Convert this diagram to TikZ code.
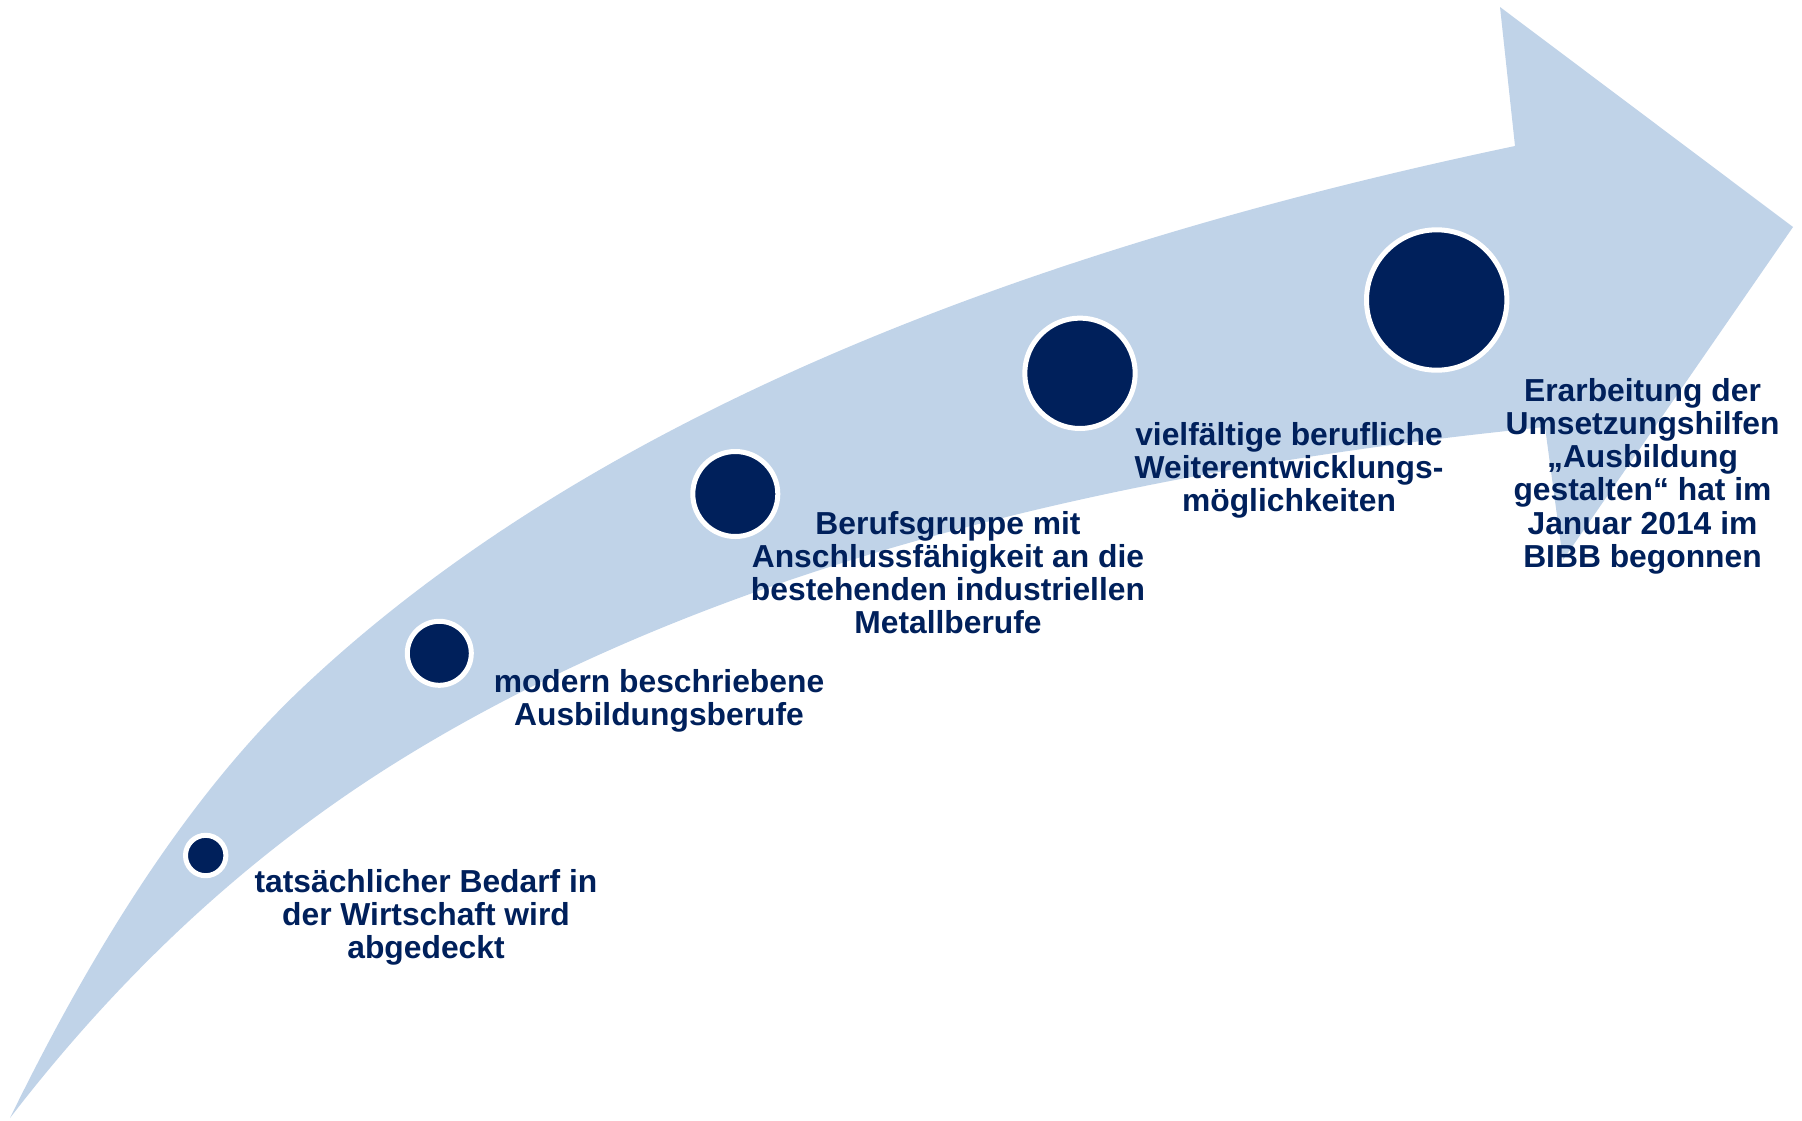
\documentclass[tikz,border=0pt]{standalone}
\usepackage{fontspec}
\setmainfont{Liberation Sans}
\definecolor{navy}{RGB}{0,32,91}
\definecolor{lightblue}{RGB}{192,211,232}
\tikzset{
  dot/.style={circle, fill=navy, draw=white, line width=5pt, inner sep=0pt},
  label/.style={anchor=north, inner sep=0pt, align=center, text=navy,
    font=\fontsize{31.8}{33.2}\selectfont\bfseries}
}
\begin{document}
\begin{tikzpicture}[x=1pt, y=-1pt]
\useasboundingbox (0,0) rectangle (1802,1120);
% arrow
\fill[lightblue] (10,1118) .. controls (102.4,928.6) and (199,786) .. (300,690)
  .. controls (560.2,442.8) and (965.2,261.5) .. (1515,146)
  -- (1500,7) -- (1793,227) -- (1563,560) -- (1545,427)
  .. controls (1061.7,475.4) and (680,586.4) .. (400,760)
  .. controls (253.9,850.5) and (123.9,969.9) .. (10,1118) -- cycle;
% circles
\node[dot, minimum size=40.4pt] (c1) at (205.7,855.5) {};
\node[dot, minimum size=64pt] (c2) at (439.3,653.3) {};
\node[dot, minimum size=85pt] (c3) at (735.3,494) {};
\node[dot, minimum size=110.4pt] (c4) at (1080,373.3) {};
\node[dot, minimum size=140.4pt] (c5) at (1436.7,300) {};
% labels
\node[label] (t1) at (426,869) {tatsächlicher Bedarf in\\der Wirtschaft wird\\abgedeckt};
\node[label] (t2) at (659,669) {modern beschriebene\\Ausbildungsberufe};
\node[label] (t3) at (948,511) {Berufsgruppe mit\\Anschlussfähigkeit an die\\bestehenden industriellen\\Metallberufe};
\node[label] (t4) at (1289,422) {vielfältige berufliche\\Weiterentwicklungs-\\möglichkeiten};
\node[label] (t5) at (1642.5,378) {Erarbeitung der\\Umsetzungshilfen\\„Ausbildung\\gestalten“ hat im\\Januar 2014 im\\BIBB begonnen};
\end{tikzpicture}
\end{document}
